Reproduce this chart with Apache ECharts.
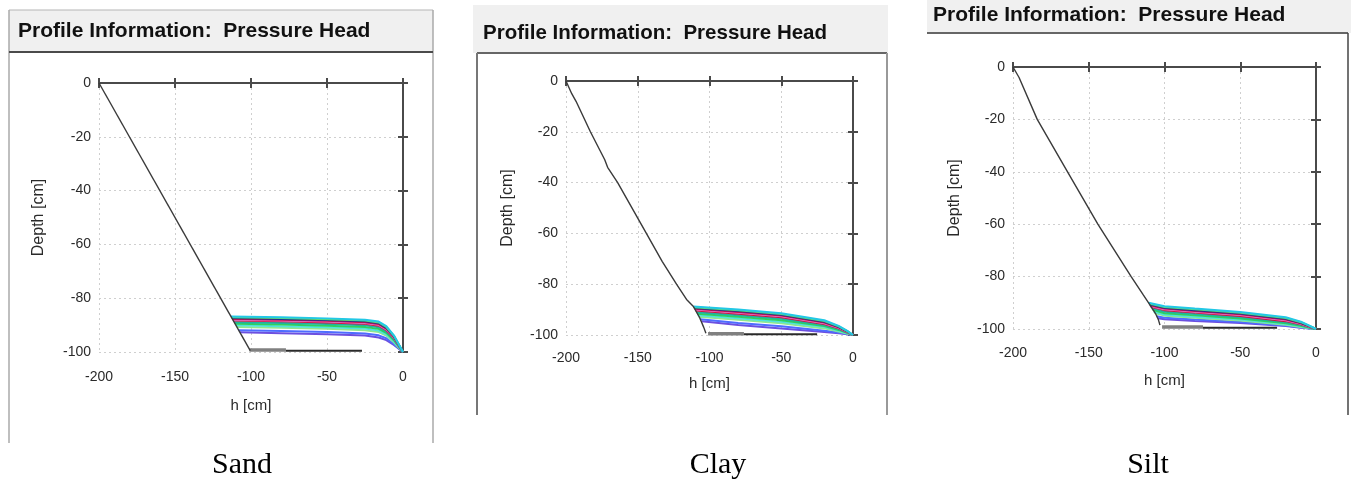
<!DOCTYPE html>
<html>
<head>
<meta charset="utf-8">
<title>Profile Information: Pressure Head</title>
<script src="https://cdn.jsdelivr.net/npm/echarts@6/dist/echarts.min.js"></script>
<style>
html, body { margin: 0; padding: 0; background: #fff; }
#main { width: 1351px; height: 483px; }
</style>
</head>
<body>
<div id="main"></div>
<script>
// axis ticks (same for all three soils)
var hTicks = [-200, -150, -100, -50, 0];
var depthTicks = [-100, -80, -60, -40, -20, 0];
var soilNames = ['Sand', 'Clay', 'Silt'];
var panelTitle = 'Profile Information:  Pressure Head';

// one colour per time step, top curve first
var curveColors = ['#22c8e6', '#5fd873', '#1f2f8f', '#c8124e', '#e57ad6', '#d3103e',
                   '#1db39f', '#2fd25b', '#4fe3dc', '#8ee88e', '#4e6cff', '#6c4fe0'];

// ---- Sand ----
var sandInitial = [[-200, 0], [-100.5, -99.5]];
var sandCurves = [
    [[-113.2, -86.8], [-80, -87.1], [-50, -87.5], [-25, -88.0], [-16, -88.7], [-11, -90.4], [-6, -93.8], [0, -100]],
    [[-112.9, -87.1], [-80, -87.4], [-50, -87.8], [-25, -88.3], [-16, -89.0], [-11, -90.7], [-6, -94.0], [0, -100]],
    [[-112.6, -87.4], [-80, -87.7], [-50, -88.1], [-25, -88.6], [-16, -89.3], [-11, -91.0], [-6, -94.2], [0, -100]],
    [[-112.3, -87.7], [-80, -88.0], [-50, -88.4], [-25, -88.9], [-16, -89.6], [-11, -91.3], [-6, -94.4], [0, -100]],
    [[-112.0, -88.0], [-80, -88.3], [-50, -88.7], [-25, -89.2], [-16, -89.9], [-11, -91.6], [-6, -94.6], [0, -100]],
    [[-111.7, -88.3], [-80, -88.6], [-50, -89.0], [-25, -89.5], [-16, -90.2], [-11, -91.9], [-6, -94.8], [0, -100]],
    [[-111.1, -88.9], [-80, -89.2], [-50, -89.6], [-25, -90.1], [-16, -90.8], [-11, -92.4], [-6, -95.2], [0, -100]],
    [[-110.5, -89.5], [-80, -89.8], [-50, -90.2], [-25, -90.7], [-16, -91.4], [-11, -92.9], [-6, -95.6], [0, -100]],
    [[-109.9, -90.1], [-80, -90.4], [-50, -90.8], [-25, -91.3], [-16, -92.0], [-11, -93.4], [-6, -96.0], [0, -100]],
    [[-109.3, -90.7], [-80, -91.0], [-50, -91.4], [-25, -91.9], [-16, -92.6], [-11, -93.9], [-6, -96.4], [0, -100]],
    [[-108.1, -91.9], [-80, -92.2], [-50, -92.6], [-25, -93.1], [-16, -93.8], [-11, -94.9], [-6, -97.0], [0, -100]],
    [[-107.3, -92.7], [-80, -93.0], [-50, -93.4], [-25, -93.9], [-16, -94.6], [-11, -95.6], [-6, -97.4], [0, -100]]
];
var sandBottomGray = [[-101, -99.3], [-77, -99.3]];
var sandBottomDark = [[-77, -99.5], [-27, -99.5]];

// ---- Clay ----
var clayInitial = [[-200, 0], [-196, -5], [-193, -8], [-183, -20], [-173, -31], [-171, -34], [-164, -40],
                   [-144, -60], [-133, -71], [-123, -80], [-116, -86], [-111.2, -88.8], [-107, -93],
                   [-104, -97], [-102.5, -99.3]];
var clayCurves = [
    [[-111.2, -88.8], [-80, -90.0], [-50, -91.4], [-20, -94.2], [-10, -96.4], [-4, -98.4], [0, -100]],
    [[-110.9, -89.1], [-80, -90.3], [-50, -91.7], [-20, -94.5], [-10, -96.6], [-4, -98.5], [0, -100]],
    [[-110.6, -89.4], [-80, -90.6], [-50, -92.0], [-20, -94.8], [-10, -96.8], [-4, -98.6], [0, -100]],
    [[-110.3, -89.7], [-80, -90.9], [-50, -92.3], [-20, -95.1], [-10, -97.0], [-4, -98.7], [0, -100]],
    [[-110.0, -90.0], [-80, -91.2], [-50, -92.6], [-20, -95.4], [-10, -97.2], [-4, -98.8], [0, -100]],
    [[-109.7, -90.4], [-80, -91.6], [-50, -93.0], [-20, -95.7], [-10, -97.4], [-4, -98.9], [0, -100]],
    [[-109.2, -91.0], [-80, -92.2], [-50, -93.6], [-20, -96.1], [-10, -97.7], [-4, -99.0], [0, -100]],
    [[-108.7, -91.6], [-80, -92.8], [-50, -94.2], [-20, -96.5], [-10, -98.0], [-4, -99.1], [0, -100]],
    [[-108.2, -92.2], [-80, -93.4], [-50, -94.8], [-20, -96.9], [-10, -98.3], [-4, -99.2], [0, -100]],
    [[-107.6, -92.8], [-80, -94.0], [-50, -95.4], [-20, -97.4], [-10, -98.6], [-4, -99.4], [0, -100]],
    [[-106.5, -93.8], [-80, -95.3], [-50, -96.6], [-20, -98.3], [-10, -99.0], [-4, -99.6], [0, -100]],
    [[-105.5, -94.6], [-80, -96.1], [-50, -97.4], [-20, -98.8], [-10, -99.3], [-4, -99.7], [0, -100]]
];
var clayBottomGray = [[-101, -99.5], [-76, -99.5]];
var clayBottomDark = [[-76, -99.7], [-25, -99.7]];

// ---- Silt ----
var siltInitial = [[-200, 0], [-196, -4], [-184, -20], [-164, -40], [-144, -60], [-122, -80], [-114, -87],
                   [-110.5, -90], [-106, -94], [-104, -96.5], [-103, -98.5]];
var siltCurves = [
    [[-110.5, -90.0], [-100, -91.3], [-80, -92.2], [-50, -93.5], [-20, -95.5], [-10, -97.2], [-4, -98.8], [0, -100]],
    [[-110.2, -90.3], [-100, -91.6], [-80, -92.5], [-50, -93.8], [-20, -95.8], [-10, -97.4], [-4, -98.9], [0, -100]],
    [[-109.9, -90.6], [-100, -91.9], [-80, -92.8], [-50, -94.1], [-20, -96.1], [-10, -97.6], [-4, -99.0], [0, -100]],
    [[-109.6, -90.9], [-100, -92.2], [-80, -93.1], [-50, -94.4], [-20, -96.4], [-10, -97.8], [-4, -99.1], [0, -100]],
    [[-109.3, -91.2], [-100, -92.5], [-80, -93.4], [-50, -94.7], [-20, -96.7], [-10, -98.0], [-4, -99.2], [0, -100]],
    [[-109.0, -91.5], [-100, -92.8], [-80, -93.7], [-50, -95.0], [-20, -97.0], [-10, -98.2], [-4, -99.3], [0, -100]],
    [[-108.4, -92.1], [-100, -93.4], [-80, -94.3], [-50, -95.5], [-20, -97.4], [-10, -98.5], [-4, -99.4], [0, -100]],
    [[-107.8, -92.7], [-100, -94.0], [-80, -94.8], [-50, -96.0], [-20, -97.8], [-10, -98.8], [-4, -99.5], [0, -100]],
    [[-107.2, -93.3], [-100, -94.5], [-80, -95.3], [-50, -96.4], [-20, -98.1], [-10, -99.0], [-4, -99.6], [0, -100]],
    [[-106.6, -93.9], [-100, -94.9], [-80, -95.7], [-50, -96.8], [-20, -98.4], [-10, -99.2], [-4, -99.7], [0, -100]],
    [[-105.2, -95.1], [-100, -95.7], [-80, -96.4], [-50, -97.3], [-20, -98.7], [-10, -99.4], [-4, -99.8], [0, -100]],
    [[-104.4, -95.9], [-100, -96.3], [-80, -96.9], [-50, -97.7], [-20, -98.9], [-10, -99.5], [-4, -99.8], [0, -100]]
];
var siltBottomGray = [[-101.6, -99.2], [-74.6, -99.2]];
var siltBottomDark = [[-74.6, -99.5], [-25.7, -99.5]];

var panels = [
    {initial: sandInitial, curves: sandCurves, gray: sandBottomGray, dark: sandBottomDark,
     grid: {left: 99, top: 83, width: 304, height: 269}, labelMargin: 18, xGap: 46, yGap: 52,
     head: {x: 9, y: 10, w: 424, h: 42}, titleX: 18, titleY: 31, titleSize: 21, captionX: 242},
    {initial: clayInitial, curves: clayCurves, gray: clayBottomGray, dark: clayBottomDark,
     grid: {left: 566, top: 81, width: 287, height: 254}, labelMargin: 16, xGap: 41, yGap: 50,
     head: {x: 473, y: 5, w: 415, h: 48}, titleX: 483, titleY: 33, titleSize: 20.5, captionX: 718},
    {initial: siltInitial, curves: siltCurves, gray: siltBottomGray, dark: siltBottomDark,
     grid: {left: 1013, top: 67, width: 303, height: 262}, labelMargin: 17, xGap: 44, yGap: 50,
     head: {x: 927, y: 0, w: 424, h: 33}, titleX: 933, titleY: 15, titleSize: 21, captionX: 1148}
];

var axisFont = 'Liberation Sans';
var frameColor = '#4a4a4a';

var grids = [], xAxes = [], yAxes = [], series = [], graphics = [];

panels.forEach(function (p, i) {
    grids.push(p.grid);
    var xi = xAxes.length, yi = yAxes.length;

    // bottom / left axes carry labels and the dotted grid
    xAxes.push({
        type: 'value', gridIndex: i, position: 'bottom',
        min: hTicks[0], max: hTicks[hTicks.length - 1], interval: hTicks[1] - hTicks[0],
        name: 'h [cm]', nameLocation: 'middle', nameGap: p.xGap,
        nameTextStyle: {fontFamily: axisFont, fontSize: 15, color: '#2a2a2a'},
        axisLine: {lineStyle: {color: frameColor, width: 2}},
        axisTick: {length: 5, lineStyle: {color: frameColor, width: 2}},
        axisLabel: {fontFamily: axisFont, fontSize: 14, color: '#2a2a2a', margin: p.labelMargin},
        splitLine: {show: true, lineStyle: {color: '#cfcfcf', type: [2, 3], width: 1}}
    });
    xAxes.push({
        type: 'value', gridIndex: i, position: 'top',
        min: hTicks[0], max: hTicks[hTicks.length - 1], interval: hTicks[1] - hTicks[0],
        axisLine: {lineStyle: {color: frameColor, width: 2}},
        axisTick: {length: 5, lineStyle: {color: frameColor, width: 2}},
        axisLabel: {show: false}, splitLine: {show: false}
    });
    yAxes.push({
        type: 'value', gridIndex: i, position: 'left',
        min: depthTicks[0], max: depthTicks[depthTicks.length - 1], interval: depthTicks[1] - depthTicks[0],
        name: 'Depth [cm]', nameLocation: 'middle', nameGap: p.yGap, nameRotate: 90,
        nameTextStyle: {fontFamily: axisFont, fontSize: 16, color: '#2a2a2a'},
        axisLine: {lineStyle: {color: frameColor, width: 2}},
        axisTick: {length: 5, lineStyle: {color: frameColor, width: 2}},
        axisLabel: {fontFamily: axisFont, fontSize: 14, color: '#2a2a2a', margin: 8},
        splitLine: {show: true, lineStyle: {color: '#cfcfcf', type: [2, 3], width: 1}}
    });
    yAxes.push({
        type: 'value', gridIndex: i, position: 'right',
        min: depthTicks[0], max: depthTicks[depthTicks.length - 1], interval: depthTicks[1] - depthTicks[0],
        axisLine: {lineStyle: {color: frameColor, width: 2}},
        axisTick: {length: 5, lineStyle: {color: frameColor, width: 2}},
        axisLabel: {show: false}, splitLine: {show: false}
    });

    function line(data, color, width, z) {
        series.push({
            type: 'line', xAxisIndex: xi, yAxisIndex: yi, data: data,
            showSymbol: false, symbol: 'none', clip: false, z: z || 2,
            lineStyle: {color: color, width: width}
        });
    }

    line(p.gray, '#808080', 3.5, 3);
    line(p.dark, '#2a2a2a', 2, 3);
    for (var k = p.curves.length - 1; k >= 0; k--) {
        line(p.curves[k], curveColors[k], 2, 4);
    }
    line(p.initial, '#3a3a3a', 1.4, 5);

    // panel window: grey header strip, title and caption
    graphics.push({type: 'rect', z: -1, shape: {x: p.head.x, y: p.head.y, width: p.head.w, height: p.head.h},
                   style: {fill: '#f0f0f0'}});
    graphics.push({type: 'text', z: 10, style: {
        text: panelTitle, x: p.titleX, y: p.titleY,
        font: 'bold ' + p.titleSize + 'px "Liberation Sans", Arial, sans-serif', fill: '#111',
        textAlign: 'left', align: 'left', textVerticalAlign: 'middle', verticalAlign: 'middle'}});
    graphics.push({type: 'text', z: 10, style: {
        text: soilNames[i], x: p.captionX, y: 465,
        font: '30px "Liberation Serif", "Times New Roman", serif', fill: '#000',
        textAlign: 'center', align: 'center', textVerticalAlign: 'middle', verticalAlign: 'middle'}});
});

function frameLine(x1, y1, x2, y2, color, w) {
    graphics.push({type: 'line', z: 1, shape: {x1: x1, y1: y1, x2: x2, y2: y2},
                   style: {stroke: color, lineWidth: w}});
}
// Sand window
frameLine(9, 10, 433, 10, '#b5b5b5', 1);
frameLine(9, 10, 9, 443, '#aaa', 1.5);
frameLine(433, 10, 433, 443, '#aaa', 1.5);
frameLine(9, 52, 433, 52, '#4a4a4a', 2);
// Clay window
frameLine(477, 53, 887, 53, '#666', 2);
frameLine(477, 53, 477, 415, '#777', 2);
frameLine(887, 53, 887, 415, '#999', 2);
// Silt window
frameLine(927, 33, 1348, 33, '#666', 2);
frameLine(1348, 33, 1348, 415, '#444', 1.5);

var chart = echarts.init(document.getElementById('main'));
chart.setOption({
    animation: false,
    backgroundColor: '#fff',
    grid: grids,
    xAxis: xAxes,
    yAxis: yAxes,
    series: series,
    graphic: {elements: graphics}
});
</script>
</body>
</html>
